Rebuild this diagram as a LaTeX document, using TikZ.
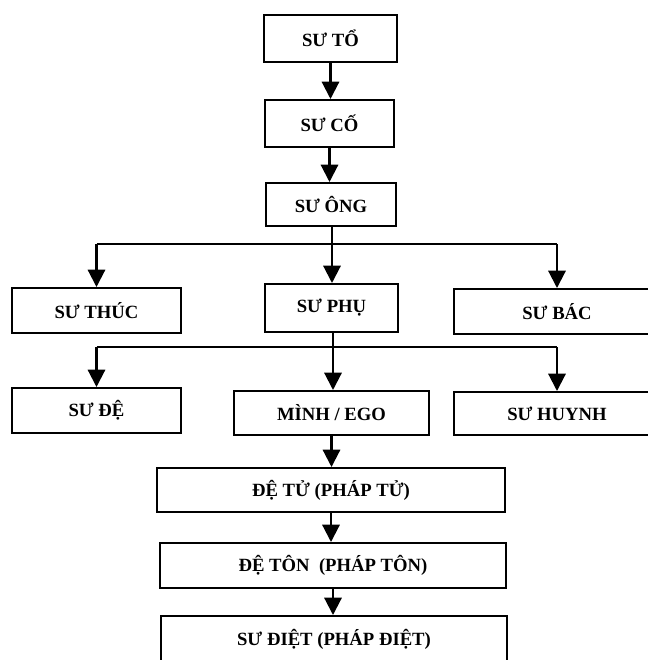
\documentclass[tikz,border=0pt]{standalone}
\usepackage{fontspec}
\setmainfont{Liberation Serif}
\usetikzlibrary{arrows.meta}
\begin{document}
\begin{tikzpicture}[x=0.75pt,y=-0.75pt,
  box/.style={draw=black,line width=1.5pt,rectangle,inner sep=0pt,
    font=\fontsize{14pt}{16pt}\selectfont\bfseries,fill=white},
  conn/.style={line width=1.6pt,line join=miter},
  arr/.style={conn,-{Triangle[width=13pt,length=13pt]}}]
\useasboundingbox (0,0) rectangle (648,660);
\clip (0,0) rectangle (648,660);
\fill[white] (0,0) rectangle (648,660);
% boxes (sizes in px * 0.75 pt)
\node[box,minimum width=99.75pt,minimum height=35.25pt] (to) at (330.5,38.5) {SƯ TỔ};
\node[box,minimum width=96.75pt,minimum height=35.25pt] (co) at (329.5,123.5) {SƯ CỐ};
\node[box,minimum width=97.5pt,minimum height=32.25pt] (ong) at (331,204.5) {SƯ ÔNG};
\node[box,minimum width=126.75pt,minimum height=33.75pt] (thuc) at (96.5,310.5) {SƯ THÚC};
\node[box,minimum width=99.75pt,minimum height=36pt] (phu) at (331.5,308) {SƯ PHỤ};
\node[box,minimum width=154.5pt,minimum height=33.75pt] (bac) at (557,311.5) {SƯ BÁC};
\node[box,minimum width=126.75pt,minimum height=33.75pt] (de) at (96.5,410.5) {SƯ ĐỆ};
\node[box,minimum width=146.25pt,minimum height=33pt] (minh) at (331.5,413) {MÌNH / EGO};
\node[box,minimum width=154.5pt,minimum height=32.25pt] (huynh) at (557,413.5) {SƯ HUYNH};
\node[box,minimum width=261pt,minimum height=33pt] (detu) at (331,490) {ĐỆ TỬ (PHÁP TỬ)};
\node[box,minimum width=259.5pt,minimum height=33.75pt] (deton) at (333,565.5) {ĐỆ TÔN~~(PHÁP TÔN)};
\node[box,minimum width=259.5pt,minimum height=34.5pt] (diet) at (334,639) {SƯ ĐIỆT (PHÁP ĐIỆT)};
% connectors
\draw[arr] (to.south) -- (to.south |- co.north);
\draw[arr] (co.south) -- (co.south |- ong.north);
\coordinate (b1) at (332,244);
\draw[conn] (ong.south -| b1) -- (b1);
\draw[conn] (b1 -| thuc) -- (b1 -| bac);
\draw[arr] (b1) -- (b1 |- phu.north);
\draw[arr] (b1 -| thuc) -- (thuc.north);
\draw[arr] (b1 -| bac) -- (bac.north);
\coordinate (b2) at (333,347);
\draw[conn] (phu.south -| b2) -- (b2);
\draw[conn] (b2 -| de) -- (b2 -| huynh);
\draw[arr] (b2) -- (b2 |- minh.north);
\draw[arr] (b2 -| de) -- (de.north);
\draw[arr] (b2 -| huynh) -- (huynh.north);
\draw[arr] (minh.south) -- (minh.south |- detu.north);
\draw[arr] (detu.south) -- (detu.south |- deton.north);
\draw[arr] (deton.south) -- (deton.south |- diet.north);
\end{tikzpicture}
\end{document}
